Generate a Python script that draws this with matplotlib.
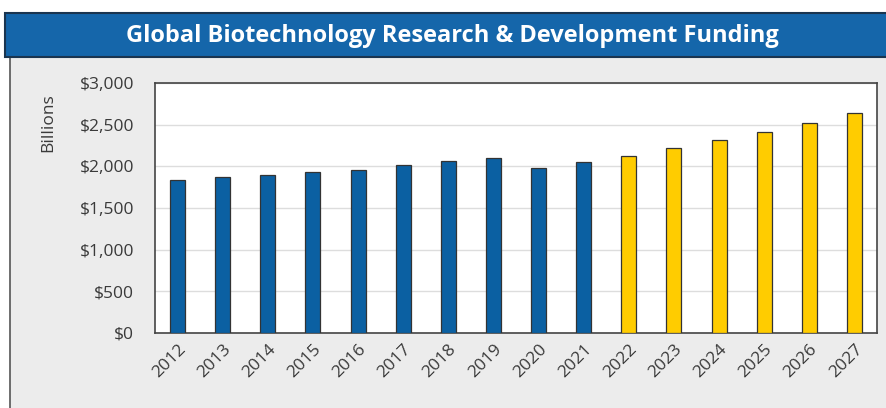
import matplotlib.pyplot as plt
from matplotlib.patches import Rectangle

plt.rcParams["font.family"] = ["Open Sans", "DejaVu Sans"]

years = [str(y) for y in range(2012, 2028)]
funding = [1840, 1870, 1900, 1930, 1960, 2020, 2060, 2100, 1980, 2050,
           2130, 2220, 2320, 2410, 2520, 2640]
is_projection = [False] * 10 + [True] * 6

blue = "#0b60a2"
yellow = "#ffcc00"

fig = plt.figure(figsize=(8.87, 4.08), dpi=100)
fig.patch.set_facecolor("white")

# gray panel and title bar (behind the axes)
fig.add_artist(Rectangle((10 / 887, -0.01), 1, 1.01 - 57 / 408, transform=fig.transFigure,
                         facecolor="#ececec", edgecolor="#555555", linewidth=1.2, zorder=-2))
fig.add_artist(Rectangle((5 / 887, 1 - 57 / 408), 1, 44 / 408, transform=fig.transFigure,
                         facecolor="#1566aa", edgecolor="#1a3550", linewidth=1.5, zorder=-1))
fig.text(0.51, 1 - 36 / 408, "Global Biotechnology Research & Development Funding",
         ha="center", va="center", color="white", fontsize=17, fontweight="bold")

ax = fig.add_axes([155 / 887, 1 - 333 / 408, 722 / 887, 250 / 408])
ax.set_zorder(1)
ax.set_facecolor("white")
colors = [yellow if p else blue for p in is_projection]
x = list(range(len(years)))
ax.bar(x, funding, width=0.33, color=colors, edgecolor="#333333", linewidth=0.9, zorder=3)

ax.set_xlim(-0.5, 15.5)
ax.set_ylim(0, 3000)
ax.set_yticks(range(0, 3001, 500))
ax.set_yticklabels([f"${v:,}" for v in range(0, 3001, 500)], fontsize=12.5, color="#3a3a3a")
ax.set_xticks(x)
ax.set_xticklabels(years, rotation=45, ha="right", rotation_mode="anchor",
                   fontsize=12.5, color="#3a3a3a")
ax.tick_params(axis="y", length=0, pad=15)
ax.tick_params(axis="x", length=0, pad=6)
ax.grid(axis="y", color="#dddddd", linewidth=1, zorder=0)
for s in ax.spines.values():
    s.set_color("#444444")
    s.set_linewidth(1.2)

fig.text(48 / 887, 1 - 123 / 408, "Billions", rotation=90, ha="center", va="center",
         fontsize=12.5, color="#3a3a3a")

plt.savefig("out.png", dpi=100)
plt.close()
